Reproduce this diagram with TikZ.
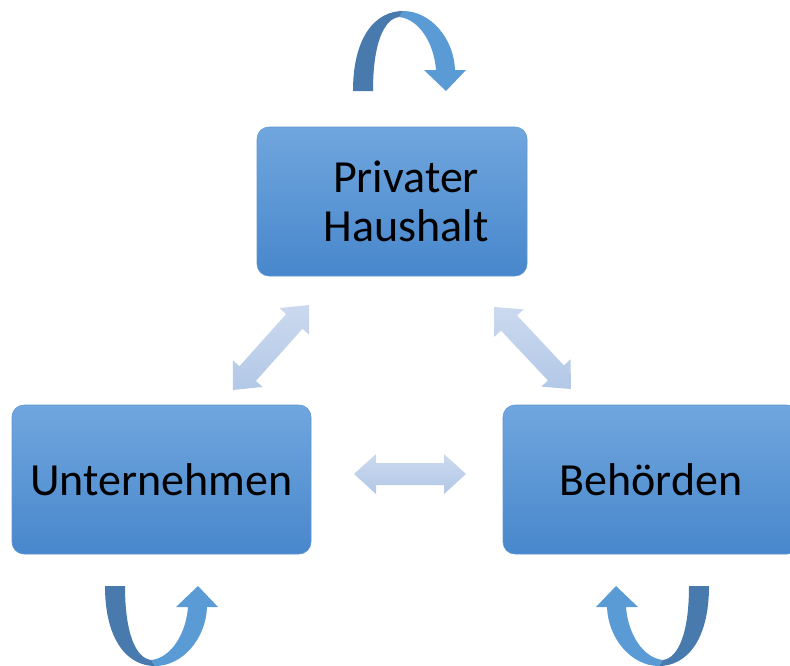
\documentclass[tikz,border=0pt]{standalone}
\usepackage{fontspec}
\setmainfont{Carlito}
\usetikzlibrary{calc}

\definecolor{boxtop}{RGB}{112,166,222}
\definecolor{boxbot}{RGB}{72,135,204}
\definecolor{boxedge}{RGB}{95,150,210}
\definecolor{linktop}{RGB}{203,217,238}
\definecolor{linkbot}{RGB}{178,200,231}
\definecolor{loopdark}{RGB}{72,122,174}
\definecolor{looplight}{RGB}{91,155,213}

\tikzset{
  actor/.style={rounded corners=12pt, draw=boxedge, line width=0.6pt,
    top color=boxtop, bottom color=boxbot, minimum height=149pt,
    align=center, font=\fontsize{46}{49}\selectfont, inner sep=0pt},
  caption/.style={align=center, font=\fontsize{46}{49}\selectfont, inner sep=0pt},
  linkfill/.style={top color=linktop, bottom color=linkbot},
  loopback/.style={fill=loopdark},
  loopfront/.style={fill=looplight},
}

% double-headed block arrow between two points
\newcommand\dblarrow[3]{%
  \coordinate (#1a) at #2;
  \coordinate (#1b) at #3;
  \coordinate (#1p) at ($(#1a)!22pt!(#1b)$);
  \coordinate (#1q) at ($(#1b)!22pt!(#1a)$);
  \path[linkfill] (#1a)
    -- ($(#1p)!20pt!90:(#1b)$) -- ($(#1p)!11pt!90:(#1b)$)
    -- ($(#1q)!11pt!-90:(#1a)$) -- ($(#1q)!20pt!-90:(#1a)$)
    -- (#1b)
    -- ($(#1q)!20pt!90:(#1a)$) -- ($(#1q)!11pt!90:(#1a)$)
    -- ($(#1p)!11pt!-90:(#1b)$) -- ($(#1p)!20pt!-90:(#1b)$)
    -- cycle;
}

% curved self-loop arrow, drawn around its apex at the origin
\newcommand\selfloop{%
  \path[loopfront] (0,0) .. controls (28,0) and (51,28) .. (52,59)
    -- (63,59) -- (43,80) -- (21,59) -- (33,59)
    .. controls (31,32) and (16,8) .. (-4,6) -- cycle;
  \path[loopback] (-50,80) .. controls (-50,25) and (-27,0) .. (0,0)
    -- (-4,6) .. controls (-19,8) and (-30,32) .. (-30,80) -- cycle;
}

\begin{document}
\begin{tikzpicture}[x=1pt,y=-1pt]
  \useasboundingbox (0,0) rectangle (790,665);
  \clip (0,0) rectangle (790,665);

  \node[actor, minimum width=270pt] (haushalt) at (392,201.5) {};
  \node[caption] (haushalttext) at (406,201.5) {Privater\\Haushalt};
  \node[actor, minimum width=299pt] (firma) at (161.5,479.5) {Unternehmen};
  \node[actor, minimum width=296pt] (amt) at (651,479.5) {Behörden};

  \dblarrow{hf}{(233,390)}{(309,305)}
  \dblarrow{ha}{(494,307)}{(571,389)}
  \dblarrow{fa}{(354,474)}{(466,474)}

  \begin{scope}[shift={(403,11)}]
    \selfloop
  \end{scope}
  \begin{scope}[shift={(155,666)}, yscale=-1]
    \selfloop
  \end{scope}
  \begin{scope}[shift={(659,666)}, xscale=-1, yscale=-1]
    \selfloop
  \end{scope}
\end{tikzpicture}
\end{document}
